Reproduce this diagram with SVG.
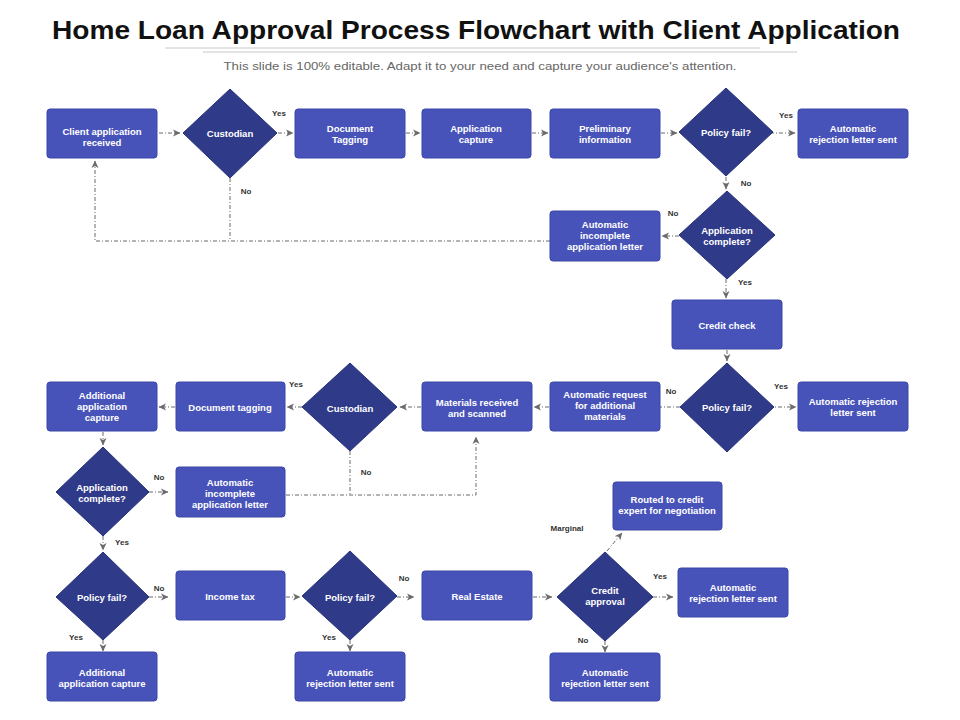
<svg xmlns="http://www.w3.org/2000/svg" width="960" height="720" viewBox="0 0 960 720">
<style>
.bx{fill:#4853B9;stroke:#3B46A8;stroke-width:1}
.dm{fill:#2F3A89;stroke:#283279;stroke-width:1}
.t{font-family:"Liberation Sans",Arial,sans-serif;font-size:9.5px;font-weight:bold;fill:#FFFFFF;text-anchor:middle}
.lb{font-family:"Liberation Sans",Arial,sans-serif;font-size:8px;font-weight:bold;fill:#333333;text-anchor:middle}
.c{fill:none;stroke:#6B6B6B;stroke-width:1;stroke-dasharray:4 2 1 2}
.ca{fill:none;stroke:#6B6B6B;stroke-width:1;stroke-dasharray:4 2 1 2;marker-end:url(#ah)}
</style>
<defs>
<marker id="ah" markerWidth="8" markerHeight="8" refX="7" refY="4" orient="auto" markerUnits="userSpaceOnUse">
<path d="M0,0.5 L7.5,4 L0,7.5 L2,4 Z" fill="#6B6B6B"/>
</marker>
</defs>
<rect width="960" height="720" fill="#FFFFFF"/>
<g id="title">
<text x="476" y="39" font-family="'Liberation Sans',Arial,sans-serif" font-size="26" font-weight="bold" fill="#111111" text-anchor="middle" textLength="848" lengthAdjust="spacingAndGlyphs">Home Loan Approval Process Flowchart with Client Application</text>
<line x1="165" y1="48" x2="760" y2="48" stroke="#C8C8C8" stroke-width="1"/>
<line x1="203" y1="52" x2="797" y2="52" stroke="#C8C8C8" stroke-width="1"/>
<text x="480" y="70" font-family="'Liberation Sans',Arial,sans-serif" font-size="11" fill="#666666" text-anchor="middle" textLength="513" lengthAdjust="spacingAndGlyphs">This slide is 100% editable. Adapt it to your need and capture your audience's attention.</text>
</g>
<g id="connectors">
<line class="ca" x1="159" y1="133" x2="180" y2="133"/>
<line class="ca" x1="278" y1="133" x2="293" y2="133"/>
<line class="ca" x1="406" y1="133" x2="420" y2="133"/>
<line class="ca" x1="532" y1="133" x2="548" y2="133"/>
<line class="ca" x1="661" y1="133" x2="677" y2="133"/>
<line class="ca" x1="752" y1="133" x2="795" y2="133"/>
<line class="ca" x1="726" y1="150" x2="726" y2="189"/>
<line class="ca" x1="679" y1="236" x2="662" y2="236"/>
<polyline class="ca" points="550,241 95,241 95,161"/>
<line class="c" x1="230" y1="178" x2="230" y2="241"/>
<line class="ca" x1="726" y1="279" x2="726" y2="298"/>
<line class="ca" x1="727" y1="350" x2="727" y2="361"/>
<line class="ca" x1="760" y1="407" x2="796" y2="407"/>
<line class="c" x1="680" y1="407" x2="660" y2="407"/>
<line class="ca" x1="549" y1="407" x2="534" y2="407"/>
<line class="ca" x1="421" y1="407" x2="400" y2="407"/>
<line class="ca" x1="302" y1="407" x2="287" y2="407"/>
<line class="ca" x1="175" y1="407" x2="159" y2="407"/>
<line class="ca" x1="103" y1="432" x2="103" y2="445"/>
<line class="ca" x1="149" y1="492" x2="168" y2="492"/>
<polyline class="ca" points="286,495 476,495 476,437"/>
<line class="c" x1="350" y1="451" x2="350" y2="495"/>
<line class="ca" x1="103" y1="536" x2="103" y2="550"/>
<line class="ca" x1="149" y1="597" x2="168" y2="597"/>
<line class="ca" x1="286" y1="597" x2="300" y2="597"/>
<line class="ca" x1="397" y1="597" x2="414" y2="597"/>
<line class="ca" x1="533" y1="597" x2="552" y2="597"/>
<line class="ca" x1="653" y1="597" x2="673" y2="597"/>
<line class="ca" x1="607" y1="551" x2="622" y2="533"/>
<line class="ca" x1="103" y1="640" x2="103" y2="651"/>
<line class="ca" x1="350" y1="640" x2="350" y2="651"/>
<line class="ca" x1="605" y1="641" x2="605" y2="652"/>
</g>
<g id="n1"><rect class="bx" x="47" y="109" width="110" height="49" rx="3"/><text class="t" x="102" y="135">Client application<tspan x="102" dy="11">received</tspan></text></g>
<g id="d1"><polygon class="dm" points="230,89 277,133 230,178 183,133"/><text class="t" x="230" y="137">Custodian</text></g>
<g id="n2"><rect class="bx" x="295" y="109" width="110" height="49" rx="3"/><text class="t" x="350" y="132">Document<tspan x="350" dy="11">Tagging</tspan></text></g>
<g id="n3"><rect class="bx" x="422" y="109" width="109" height="49" rx="3"/><text class="t" x="476" y="132">Application<tspan x="476" dy="11">capture</tspan></text></g>
<g id="n4"><rect class="bx" x="550" y="109" width="110" height="49" rx="3"/><text class="t" x="605" y="132">Preliminary<tspan x="605" dy="11">information</tspan></text></g>
<g id="d2"><polygon class="dm" points="726,88 773,132 726,176 679,132"/><text class="t" x="726" y="136">Policy fail?</text></g>
<g id="n5"><rect class="bx" x="798" y="109" width="110" height="49" rx="3"/><text class="t" x="853" y="132">Automatic<tspan x="853" dy="11">rejection letter sent</tspan></text></g>
<g id="d3"><polygon class="dm" points="727,191 775,235 727,279 679,235"/><text class="t" x="727" y="234">Application<tspan x="727" dy="11">complete?</tspan></text></g>
<g id="n6"><rect class="bx" x="550" y="211" width="110" height="50" rx="3"/><text class="t" x="605" y="228">Automatic<tspan x="605" dy="11">incomplete</tspan><tspan x="605" dy="11">application letter</tspan></text></g>
<g id="n7"><rect class="bx" x="672" y="300" width="110" height="49" rx="3"/><text class="t" x="727" y="329">Credit check</text></g>
<g id="d4"><polygon class="dm" points="727,363 774,407 727,452 680,407"/><text class="t" x="727" y="411">Policy fail?</text></g>
<g id="n8"><rect class="bx" x="798" y="382" width="110" height="49" rx="3"/><text class="t" x="853" y="405">Automatic rejection<tspan x="853" dy="11">letter sent</tspan></text></g>
<g id="n9"><rect class="bx" x="550" y="382" width="110" height="49" rx="3"/><text class="t" x="605" y="398">Automatic request<tspan x="605" dy="11">for additional</tspan><tspan x="605" dy="11">materials</tspan></text></g>
<g id="n10"><rect class="bx" x="422" y="382" width="110" height="49" rx="3"/><text class="t" x="477" y="406">Materials received<tspan x="477" dy="11">and scanned</tspan></text></g>
<g id="d5"><polygon class="dm" points="350,363 397,407 350,451 302,407"/><text class="t" x="350" y="412">Custodian</text></g>
<g id="n11"><rect class="bx" x="176" y="382" width="109" height="49" rx="3"/><text class="t" x="230" y="411">Document tagging</text></g>
<g id="n12"><rect class="bx" x="47" y="382" width="110" height="49" rx="3"/><text class="t" x="102" y="399">Additional<tspan x="102" dy="11">application</tspan><tspan x="102" dy="11">capture</tspan></text></g>
<g id="d6"><polygon class="dm" points="103,447 149,492 103,536 56,492"/><text class="t" x="102" y="491">Application<tspan x="102" dy="11">complete?</tspan></text></g>
<g id="n13"><rect class="bx" x="176" y="467" width="109" height="50" rx="3"/><text class="t" x="230" y="486">Automatic<tspan x="230" dy="11">incomplete</tspan><tspan x="230" dy="11">application letter</tspan></text></g>
<g id="d7"><polygon class="dm" points="103,552 149,597 103,640 56,597"/><text class="t" x="102" y="601">Policy fail?</text></g>
<g id="n14"><rect class="bx" x="176" y="571" width="109" height="49" rx="3"/><text class="t" x="230" y="600">Income tax</text></g>
<g id="d8"><polygon class="dm" points="350,551 397,596 350,640 302,596"/><text class="t" x="350" y="601">Policy fail?</text></g>
<g id="n15"><rect class="bx" x="422" y="571" width="110" height="49" rx="3"/><text class="t" x="477" y="600">Real Estate</text></g>
<g id="d9"><polygon class="dm" points="605,552 653,597 605,641 557,597"/><text class="t" x="605" y="594">Credit<tspan x="605" dy="11">approval</tspan></text></g>
<g id="n16"><rect class="bx" x="613" y="482" width="109" height="48" rx="3"/><text class="t" x="667" y="503">Routed to credit<tspan x="667" dy="11">expert for negotiation</tspan></text></g>
<g id="n17"><rect class="bx" x="678" y="568" width="110" height="49" rx="3"/><text class="t" x="733" y="591">Automatic<tspan x="733" dy="11">rejection letter sent</tspan></text></g>
<g id="n18"><rect class="bx" x="47" y="652" width="110" height="49" rx="3"/><text class="t" x="102" y="676">Additional<tspan x="102" dy="11">application capture</tspan></text></g>
<g id="n19"><rect class="bx" x="295" y="652" width="110" height="49" rx="3"/><text class="t" x="350" y="676">Automatic<tspan x="350" dy="11">rejection letter sent</tspan></text></g>
<g id="n20"><rect class="bx" x="550" y="653" width="110" height="48" rx="3"/><text class="t" x="605" y="676">Automatic<tspan x="605" dy="11">rejection letter sent</tspan></text></g>
<g id="labels">
<text class="lb" x="279" y="116">Yes</text>
<text class="lb" x="246" y="194">No</text>
<text class="lb" x="786" y="118">Yes</text>
<text class="lb" x="746" y="186">No</text>
<text class="lb" x="673" y="216">No</text>
<text class="lb" x="745" y="285">Yes</text>
<text class="lb" x="781" y="389">Yes</text>
<text class="lb" x="671" y="394">No</text>
<text class="lb" x="296" y="387">Yes</text>
<text class="lb" x="366" y="475">No</text>
<text class="lb" x="159" y="480">No</text>
<text class="lb" x="122" y="545">Yes</text>
<text class="lb" x="159" y="591">No</text>
<text class="lb" x="76" y="640">Yes</text>
<text class="lb" x="329" y="640">Yes</text>
<text class="lb" x="404" y="581">No</text>
<text class="lb" x="567" y="531">Marginal</text>
<text class="lb" x="660" y="579">Yes</text>
<text class="lb" x="583" y="643">No</text>
</g>
</svg>
